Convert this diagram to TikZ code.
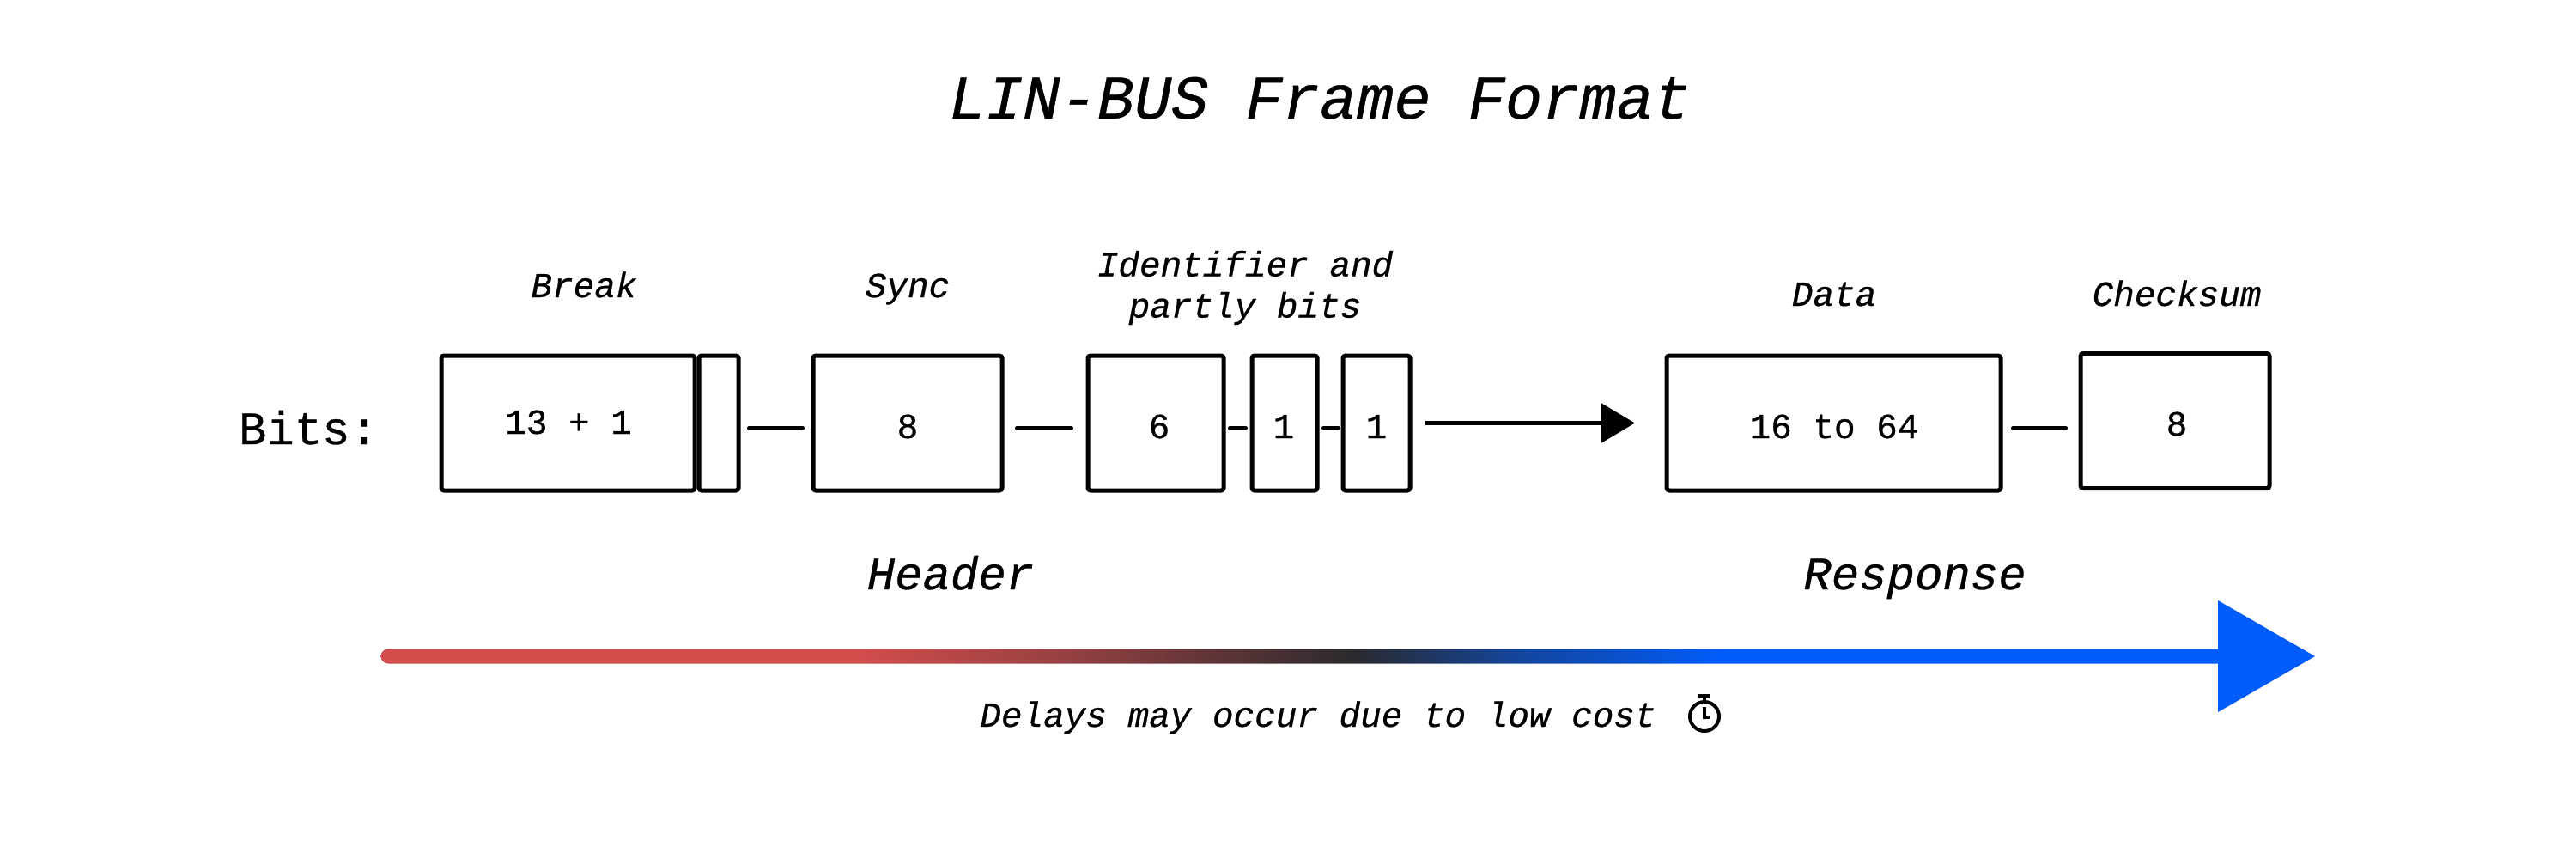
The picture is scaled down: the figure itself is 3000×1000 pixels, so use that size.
\documentclass[tikz,border=0pt]{standalone}
\usepackage{fontspec}
\usetikzlibrary{arrows.meta}
\newfontfamily\codefont[RawFeature={embolden=0.6}]{Liberation Mono}
\definecolor{inkc}{HTML}{000000}
\definecolor{redc}{HTML}{D24C4C}
\definecolor{darkc}{HTML}{2A2A2E}
\definecolor{bluec}{HTML}{005CFA}
\pgfdeclarehorizontalshading{timegrad}{100bp}{color(0bp)=(redc); color(38bp)=(redc); color(44bp)=(redc!62!darkc); color(51.5bp)=(darkc); color(56bp)=(bluec!55!darkc); color(61.5bp)=(bluec); color(100bp)=(bluec)}
\tikzset{
  bitbox/.style={draw=inkc,line width=5pt,rounded corners=3pt,fill=white,inner sep=0pt,outer sep=0pt,minimum height=157pt,text=inkc},
  conn/.style={draw=inkc,line width=5pt,line cap=round},
  lab/.style={inner sep=0pt,outer sep=0pt,anchor=base,text=inkc,font=\codefont\fontsize{41}{48}\selectfont},
  labit/.style={lab,font=\codefont\itshape\fontsize{41}{48}\selectfont},
  headit/.style={lab,font=\codefont\itshape\fontsize{54}{60}\selectfont}
}
\begin{document}
\begin{tikzpicture}[x=1pt,y=-1pt]
\useasboundingbox[fill=white] (0,0) rectangle (3000,1000);
% title and side labels
\node[lab,font=\codefont\itshape\fontsize{72}{80}\selectfont] (title) at (1537,138) {LIN-BUS Frame Format};
\node[lab,font=\codefont\fontsize{54}{60}\selectfont,anchor=base west] (bits) at (278,517) {Bits:};
% boxes
\node[bitbox,minimum width=295pt] (brk) at (661.5,492.5) {};
\node[bitbox,minimum width=46pt] (brk2) at (837,492.5) {};
\node[bitbox,minimum width=220pt] (sync) at (1057,492.5) {};
\node[bitbox,minimum width=158pt] (ident) at (1346,492.5) {};
\node[bitbox,minimum width=76pt] (pa) at (1496,492.5) {};
\node[bitbox,minimum width=78pt] (pb) at (1603,492.5) {};
\node[bitbox,minimum width=389pt] (data) at (2135.5,492.5) {};
\node[bitbox,minimum width=220pt] (chk) at (2533,490) {};
% box texts
\node[lab] (t1) at (662,505) {13 + 1};
\node[lab] (t2) at (1057,510) {8};
\node[lab] (t3) at (1350,510) {6};
\node[lab] (t4) at (1495,510) {1};
\node[lab] (t5) at (1603,510) {1};
\node[lab] (t6) at (2136,510) {16 to 64};
\node[lab] (t7) at (2535,507) {8};
% field labels
\node[labit] (l1) at (680,346) {Break};
\node[labit] (l2) at (1057,346) {Sync};
\node[labit,anchor=center,align=center] (l3) at (1450,335) {Identifier and\\partly bits};
\node[labit] (l4) at (2136,356) {Data};
\node[labit] (l5) at (2535,356) {Checksum};
% connectors
\draw[conn,shorten <=12.5pt,shorten >=12.5pt] ([yshift=-5.5pt]brk2.east) -- ([yshift=-5.5pt]sync.west);
\draw[conn,shorten <=17.5pt,shorten >=19.5pt] ([yshift=-5.5pt]sync.east) -- ([yshift=-5.5pt]ident.west);
\draw[conn,shorten <=7.5pt,shorten >=7.5pt] ([yshift=-5.5pt]ident.east) -- ([yshift=-5.5pt]pa.west);
\draw[conn,shorten <=7.5pt,shorten >=5.5pt] ([yshift=-5.5pt]pa.east) -- ([yshift=-5.5pt]pb.west);
\draw[conn,shorten <=14.5pt,shorten >=17.5pt] ([yshift=-5.5pt]data.east) -- ([yshift=-8pt]chk.west);
\draw[draw=inkc,line width=5pt,-{Triangle[length=39pt,width=45pt]},shorten <=18pt,shorten >=37pt] (pb.east) -- (data.west);
% section labels
\node[headit] (hd) at (1107,686) {Header};
\node[headit] (rs) at (2230,686) {Response};
% timeline
\coordinate (tstart) at (452,764);
\coordinate (tbase) at (2583,764);
\coordinate (ttip) at (2696,764);
\shade[shading=timegrad] (452,755.5) arc[start angle=270,end angle=90,radius=8.5] -- (2584,772.5) -- (2584,755.5) -- cycle;
\fill[bluec] ([yshift=65pt]tbase) -- (ttip) -- ([yshift=-65pt]tbase) -- cycle;
% note and stopwatch
\node[labit] (note) at (1535,846) {Delays may occur due to low cost};
\coordinate (sw) at (1985,834);
\draw[inkc,line width=4pt] (sw) circle[radius=17];
\draw[inkc,line width=4pt] (1985,817) -- (1985,810);
\draw[inkc,line width=4pt] (1978,810) -- (1992,810);
\draw[inkc,line width=4pt] (1985,823) -- (1985,835) -- (1991,835);
\end{tikzpicture}
\end{document}
